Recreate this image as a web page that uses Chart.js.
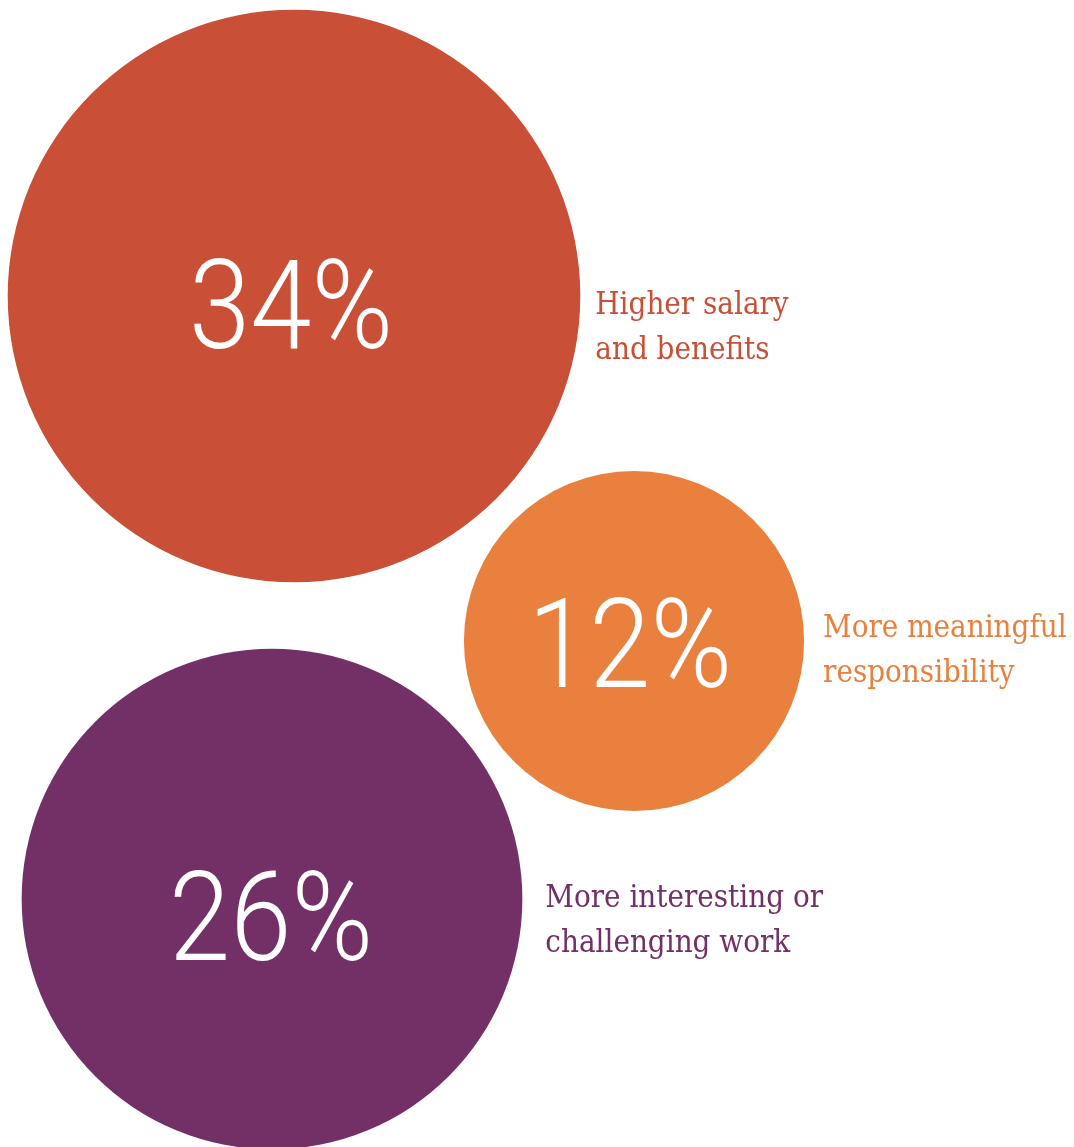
<!DOCTYPE html>
<html>
<head>
<meta charset="utf-8">
<script src="https://cdn.jsdelivr.net/npm/chart.js"></script>
<style>
  html, body { margin: 0; padding: 0; background: #fff; overflow: hidden; }
  canvas { display: block; }
</style>
</head>
<body>
<canvas id="bubbleChart" width="1074" height="1147"></canvas>
<script>
// data
const kategoriat = [
  ['Higher salary', 'and benefits'],
  ['More meaningful', 'responsibility'],
  ['More interesting or', 'challenging work']
];
const prosentit = [34, 12, 26];
// kuplien keskipisteet (kaavion yksiköissä)
const sijaintiX = [294, 634, 272];
const sijaintiY = [296, 641, 899];
const varit = ['#c94f36', '#e9803e', '#723066'];

const sade = v => 49.1 * Math.sqrt(v); // pinta-ala ~ prosentti
const labelDx = [0, 4, 8];
const labelDy = [32, 10, 22];
const lukuDy = [52, 46, 61];
const lukuDx = [-3, -4, -1];

const tekstiPlugin = {
  id: 'tekstit',
  afterDatasetsDraw(chart) {
    const ctx = chart.ctx;
    const meta = chart.getDatasetMeta(0);
    meta.data.forEach((el, i) => {
      const r = el.options.radius;
      ctx.save();
      // prosentti keskelle
      ctx.fillStyle = '#fff';
      ctx.font = '300 124px Roboto';
      ctx.textAlign = 'center';
      ctx.textBaseline = 'alphabetic';
      ctx.translate(el.x + lukuDx[i], el.y + lukuDy[i]);
      ctx.scale(0.89, 1);
      ctx.fillText(prosentit[i] + '%', 0, 0);
      ctx.restore();

      // selite oikealle
      ctx.save();
      ctx.fillStyle = varit[i];
      ctx.font = '31px "DejaVu Serif Condensed"';
      ctx.textAlign = 'left';
      ctx.textBaseline = 'middle';
      const x0 = el.x + r + 15 + labelDx[i];
      kategoriat[i].forEach((rivi, j) => {
        ctx.fillText(rivi, x0, el.y + labelDy[i] - 22 + j * 45);
      });
      ctx.restore();
    });
  }
};

new Chart(document.getElementById('bubbleChart').getContext('2d'), {
  type: 'bubble',
  data: {
    datasets: [{
      data: prosentit.map((v, i) => ({ x: sijaintiX[i], y: sijaintiY[i], r: sade(v) })),
      backgroundColor: varit,
      borderWidth: 0,
      hoverRadius: 0,
      clip: false
    }]
  },
  options: {
    responsive: false,
    animation: false,
    layout: { padding: 0, autoPadding: false },
    plugins: { legend: { display: false }, tooltip: { enabled: false } },
    scales: {
      x: { type: 'linear', min: 0, max: 1074, display: false },
      y: { type: 'linear', min: 0, max: 1147, reverse: true, display: false }
    }
  },
  plugins: [tekstiPlugin]
});
</script>
</body>
</html>
